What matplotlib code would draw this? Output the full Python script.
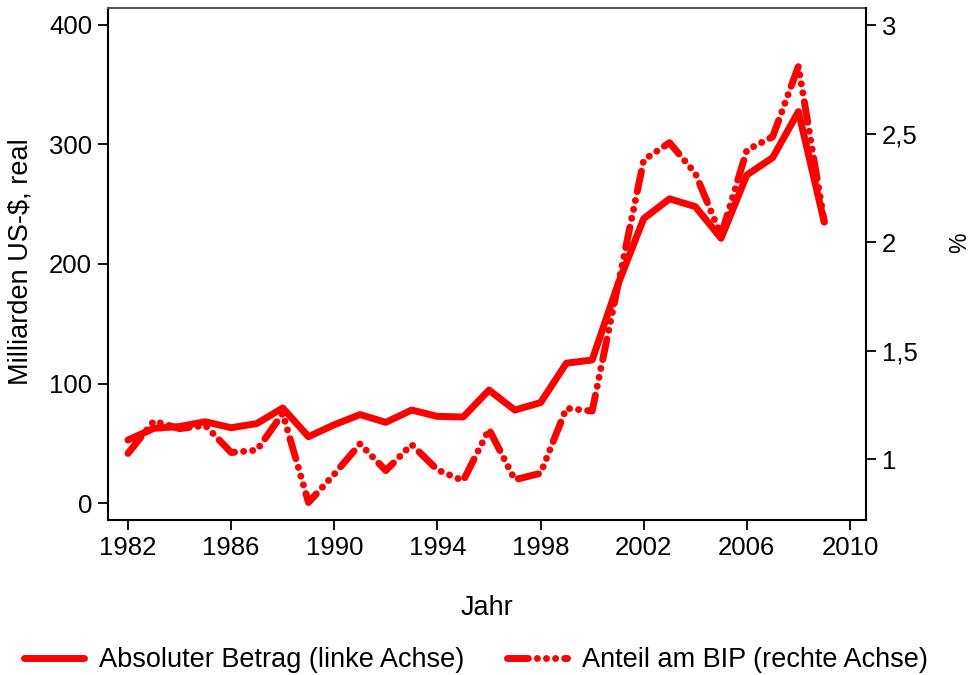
import matplotlib
matplotlib.use("Agg")
import matplotlib.pyplot as plt
from matplotlib.ticker import FixedLocator, FuncFormatter

plt.rcParams['font.family'] = ['Liberation Sans', 'DejaVu Sans']

years = list(range(1982, 2010))
absolut = [52.7, 62.5, 64, 68, 63, 66.5, 79.5, 55.5, 65.5, 74, 67.5, 77.8, 72.5, 72,
           94.5, 77.8, 84, 117, 119.7, 183, 238, 254.5, 248, 221.5, 274.5, 289, 327.5, 235]
anteil = [1.026, 1.175, 1.14, 1.155, 1.03, 1.041, 1.21, 0.80, 0.93, 1.07, 0.947, 1.067,
          0.95, 0.90, 1.137, 0.905, 0.934, 1.234, 1.221, 1.80, 2.378, 2.458, 2.317, 2.03,
          2.424, 2.485, 2.81, 2.094]

left_ticks = [0, 100, 200, 300, 400]
right_ticks = [1, 1.5, 2, 2.5, 3]
x_ticks = [1982, 1986, 1990, 1994, 1998, 2002, 2006, 2010]

W, H = 974, 675
TOP, BOT, LEFT, RIGHT = 7.5, 520, 108, 866
fig = plt.figure(figsize=(W / 100, H / 100), dpi=100)
ax = fig.add_axes([LEFT / W, 1 - BOT / H, (RIGHT - LEFT) / W, (BOT - TOP) / H])
ax2 = ax.twinx()

red = '#FF0000'
l1, = ax.plot(years, absolut, color=red, lw=5, solid_capstyle='round',
              solid_joinstyle='round', label='Absoluter Betrag (linke Achse)')
l2, = ax2.plot(years, anteil, color=red, lw=5,
               linestyle=(0, (3, 1.3, 0.01, 1.3, 0.01, 1.3, 0.01, 1.3)),
               dash_capstyle='round', dash_joinstyle='round',
               label='Anteil am BIP (rechte Achse)')

ax.set_xlim(1981.225, 2010.62)
ax.set_ylim(-14.2, 414.6)
ax2.set_ylim(0.719, 3.081)

ax.xaxis.set_major_locator(FixedLocator(x_ticks))
ax.yaxis.set_major_locator(FixedLocator(left_ticks))
ax2.yaxis.set_major_locator(FixedLocator(right_ticks))
ax2.yaxis.set_major_formatter(FuncFormatter(lambda v, p: ('%g' % v).replace('.', ',')))

for a in (ax, ax2):
    for s in a.spines.values():
        s.set_linewidth(1.5)
    a.tick_params(direction='out', length=7.5, width=1.3, labelsize=18.5, pad=4)
ax.spines['top'].set_color('#555555')
ax2.spines['top'].set_visible(False)
ax.spines['right'].set_visible(False)
ax2.spines['left'].set_visible(False)
ax2.spines['bottom'].set_visible(False)

AW, AH = RIGHT - LEFT, BOT - TOP
ax.set_xlabel('Jahr', fontsize=19.5)
ax.xaxis.set_label_coords(0.5, -(595 - BOT) / AH)
ax.set_ylabel('Milliarden US-$, real', fontsize=19.5)
ax.yaxis.set_label_coords(-(LEFT - 34) / AW, (BOT - 261.5) / AH)
ax2.set_ylabel('%', fontsize=16.5, rotation=90)
ax2.yaxis.set_label_coords((948 - LEFT) / AW, (BOT - 243) / AH)

fig.legend(handles=[l1, l2], loc='center', bbox_to_anchor=(476 / W, 1 - 660 / H), ncol=2,
           frameon=False, fontsize=19.5, handlelength=2.2, columnspacing=1.6,
           handletextpad=0.55, borderpad=0, borderaxespad=0)

fig.savefig('out.png', dpi=100, facecolor='white')
